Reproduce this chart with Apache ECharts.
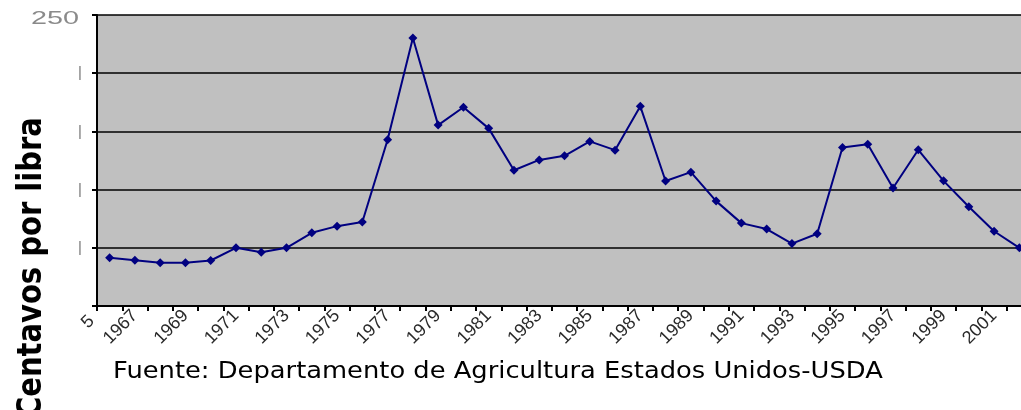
<!DOCTYPE html>
<html>
<head>
<meta charset="utf-8">
<script src="https://cdn.jsdelivr.net/npm/echarts@6/dist/echarts.min.js"></script>
<style>html,body{margin:0;padding:0;background:#fff;overflow:hidden}#c{width:1021px;height:410px}</style>
</head>
<body>
<div id="c"></div>
<script>
const years = [];
for (let y = 1966; y <= 2002; y++) years.push(String(y));
const prices = [41.4, 39.4, 37.1, 37.1, 39.1, 50, 46.2, 50, 62.9, 68.6, 72.1,
  142.8, 230.2, 155.4, 170.7, 152.6, 116.6, 125.5, 129, 141.4, 133.9, 171.5,
  107.4, 115, 90.1, 71.2, 66.1, 53.6, 62.1, 136.2, 138.9, 101.4, 134.2, 107.5,
  85.3, 64.2, 50];
const yTicks = [0, 50, 100, 150, 200, 250];
const topTickLabel = '250';
const yTitle = 'Centavos por libra';
const source = 'Fuente: Departamento de Agricultura Estados Unidos-USDA';
const cutLabel = '5';

const chart = echarts.init(document.getElementById('c'), null, {renderer: 'canvas'});
chart.setOption({
  animation: false,
  backgroundColor: '#ffffff',
  grid: {left: 97, top: 15, width: 935, bottom: 104, outerBoundsMode: 'none', containLabel: false,
         show: true, backgroundColor: '#c0c0c0', borderWidth: 0},
  xAxis: {
    type: 'category',
    data: years,
    boundaryGap: true,
    axisLine: {lineStyle: {color: '#000', width: 2}},
    axisTick: {show: true, length: 5, lineStyle: {color: '#000', width: 2}, interval: 0},
    axisLabel: {
      rotate: 45, margin: 7, color: '#2a2a2a', fontFamily: 'Arial, Liberation Sans', fontSize: 18,
      interval: (i) => i % 2 === 1
    }
  },
  yAxis: {
    type: 'value',
    min: yTicks[0], max: yTicks[yTicks.length - 1], interval: 50,
    axisLine: {show: true, lineStyle: {color: '#000', width: 2}},
    axisTick: {show: true, length: 5, lineStyle: {color: '#000', width: 2}},
    splitLine: {lineStyle: {color: '#000', width: 1.5}},
    axisLabel: {
      margin: 15, color: '#777', fontFamily: 'Arial, Liberation Sans', fontSize: 15,
      formatter: (v) => (v === 0 || v === 250) ? '' : '|'
    }
  },
  series: [{
    type: 'line',
    data: prices,
    symbol: 'diamond',
    symbolSize: 9,
    lineStyle: {color: '#000080', width: 2},
    itemStyle: {color: '#000080'}
  }],
  graphic: [
    {type: 'text', x: 32, y: 418, rotation: Math.PI / 2, scaleY: 1.15,
     style: {text: yTitle, font: 'bold 29px DejaVu Sans', fill: '#000', align: 'left', verticalAlign: 'middle'}},
    {type: 'text', x: 113, y: 372, scaleX: 1.12,
     style: {text: source, font: '23px DejaVu Sans', fill: '#000', align: 'left', verticalAlign: 'middle'}},
    {type: 'text', x: 55, y: 19, scaleX: 1.6,
     style: {text: topTickLabel, font: '18px Arial', fill: '#8a8a8a', align: 'center', verticalAlign: 'middle'}},
    {type: 'text', x: 88, y: 322, rotation: Math.PI / 4,
     style: {text: cutLabel, font: '18px Arial', fill: '#2a2a2a', align: 'center', verticalAlign: 'middle'}}
  ]
});
</script>
</body>
</html>
